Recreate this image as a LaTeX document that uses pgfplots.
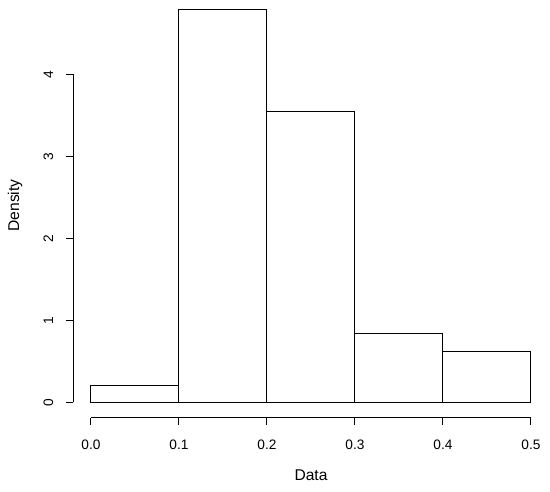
\documentclass[border=0pt]{standalone}
\usepackage{pgfplots}
\pgfplotsset{compat=1.18}
\usepackage{fontspec}
\setmainfont{Liberation Sans}
\begin{document}
\begin{tikzpicture}[x=1pt,y=1pt]
\useasboundingbox (0,0) rectangle (550,492);
\begin{axis}[
 at={(73.4pt,74.1pt)}, anchor=south west,
 scale only axis, width=475.2pt, height=417.4pt,
 xmin=-0.02, xmax=0.52, ymin=-0.19, ymax=4.9,
 axis x line*=bottom, axis y line*=left,
 axis line style={draw=none},
 tick align=outside, major tick length=7pt,
 tick style={black, line width=1pt},
 xtick={0,0.1,0.2,0.3,0.4,0.5}, ytick={0,1,2,3,4},
 xticklabels={0.0,0.1,0.2,0.3,0.4,0.5},
 yticklabels={0,1,2,3,4},
 ticklabel style={font=\fontsize{13.7}{15}\selectfont},
 xticklabel style={anchor=center, yshift=-20pt},
 yticklabel style={rotate=90, anchor=center, yshift=18pt},
 clip=false,
 label style={font=\fontsize{15.6}{18}\selectfont},
 xlabel={Data}, ylabel={Density},
 xlabel style={at={(axis cs:0.25,-0.886)}, anchor=center},
 ylabel style={at={(axis cs:-0.0864,2.4)}, anchor=center},
]
\addplot[ybar interval, fill=white, draw=black, line width=1pt] coordinates {
(0,0.2083) (0.1,4.7917) (0.2,3.5417) (0.3,0.8333) (0.4,0.625) (0.5,0.625)};
\draw[line width=1pt] (axis cs:0,-0.19) -- (axis cs:0.5,-0.19);
\draw[line width=1pt] (axis cs:-0.02,0) -- (axis cs:-0.02,4);
\end{axis}
\end{tikzpicture}
\end{document}
